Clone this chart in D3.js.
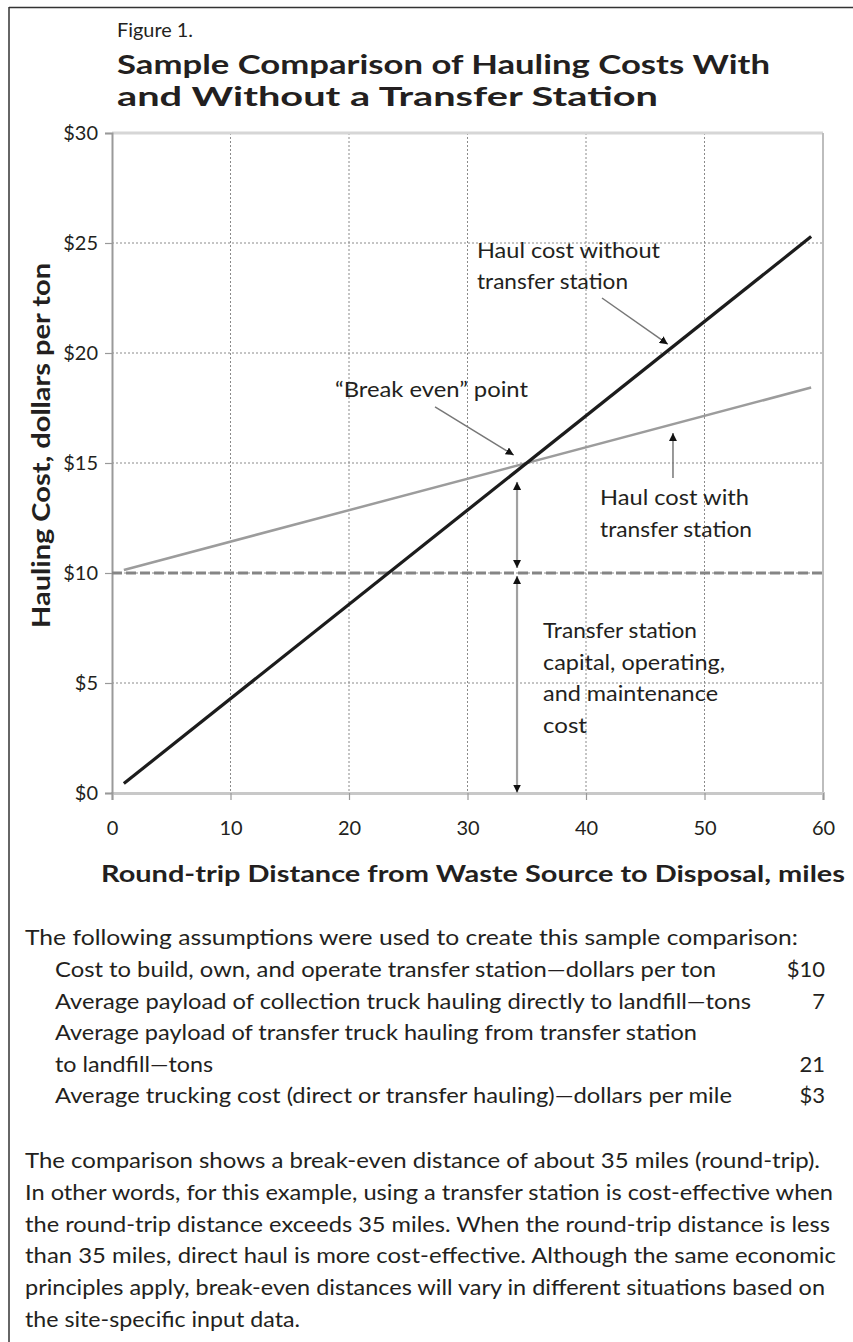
<!DOCTYPE html>
<html>
<head>
<meta charset="utf-8">
<script src="https://cdn.jsdelivr.net/npm/d3@7"></script>
<style>
  html, body { margin: 0; padding: 0; background: #fff; }
  svg { display: block; }
  text { font-family: Lato, "Open Sans", sans-serif; fill: #231f20; }
</style>
</head>
<body>
<svg id="chart" width="853" height="1342"></svg>
<script>
// ---------------- DATA ----------------
const distanceMiles = [1, 59];                 // round-trip miles
const costWithoutTransfer = [0.43, 25.29];     // $/ton, direct haul
const costWithTransfer = [10.14, 18.43];       // $/ton, via transfer station
const transferStationCost = [10, 10];          // $/ton, capital + O&M
const transferCostX = [0, 60];
const xTicks = [0, 10, 20, 30, 40, 50, 60];
const xTickLabels = ["0", "10", "20", "30", "40", "50", "60"];
const yTicks = [0, 5, 10, 15, 20, 25, 30];
const yTickLabels = ["$0", "$5", "$10", "$15", "$20", "$25", "$30"];

const figureLabel = "Figure 1.";
const titleLines = ["Sample Comparison of Hauling Costs With", "and Without a Transfer Station"];
const xAxisTitle = "Round-trip Distance from Waste Source to Disposal, miles";
const yAxisTitle = "Hauling Cost, dollars per ton";

const noteWithout = ["Haul cost without", "transfer station"];
const noteBreakEven = ["\u201CBreak even\u201D point"];
const noteWith = ["Haul cost with", "transfer station"];
const noteTransfer = ["Transfer station", "capital, operating,", "and maintenance", "cost"];

const assumptionsIntro = "The following assumptions were used to create this sample comparison:";
const assumptionLabels = [
  "Cost to build, own, and operate transfer station\u2014dollars per ton",
  "Average payload of collection truck hauling directly to landfill\u2014tons",
  "Average payload of transfer truck hauling from transfer station",
  "to landfill\u2014tons",
  "Average trucking cost (direct or transfer hauling)\u2014dollars per mile"
];
const assumptionValues = ["$10", "7", "", "21", "$3"];
const paragraphLines = [
  "The comparison shows a break-even distance of about 35 miles (round-trip).",
  "In other words, for this example, using a transfer station is cost-effective when",
  "the round-trip distance exceeds 35 miles. When the round-trip distance is less",
  "than 35 miles, direct haul is more cost-effective. Although the same economic",
  "principles apply, break-even distances will vary in different situations based on",
  "the site-specific input data."
];

// ---------------- LAYOUT ----------------
const svg = d3.select("#chart");
const plot = { left: 112, right: 823, top: 133, bottom: 793 };
const x = d3.scaleLinear().domain([0, 60]).range([plot.left, plot.right]);
const y = d3.scaleLinear().domain([0, 30]).range([plot.bottom, plot.top]);

// page frame
svg.append("line").attr("x1", 9).attr("x2", 853).attr("y1", 7.5).attr("y2", 7.5)
  .attr("stroke", "#333").attr("stroke-width", 1.5);
svg.append("line").attr("x1", 9).attr("x2", 9).attr("y1", 7).attr("y2", 1342)
  .attr("stroke", "#333").attr("stroke-width", 1.5);

// titles
svg.append("text").attr("x", 117).attr("y", 37).attr("font-size", 19)
  .attr("textLength", 76).attr("lengthAdjust", "spacingAndGlyphs").text(figureLabel);
const titleEnds = [770, 658];
titleLines.forEach((t, i) => {
  svg.append("text").attr("x", 117).attr("y", 74 + i * 32).attr("font-size", 26.5)
    .attr("font-weight", "bold").attr("textLength", titleEnds[i] - 117)
    .attr("lengthAdjust", "spacingAndGlyphs").text(t);
});

// grid
const grid = svg.append("g");
grid.selectAll("line.gx").data(xTicks.slice(1, -1)).join("line")
  .attr("x1", d => x(d)).attr("x2", d => x(d)).attr("y1", plot.top).attr("y2", plot.bottom)
  .attr("stroke", "#8a8a8a").attr("stroke-width", 1).attr("stroke-dasharray", "2,2");
grid.selectAll("line.gy").data(yTicks.slice(1, -1)).join("line")
  .attr("x1", plot.left).attr("x2", plot.right).attr("y1", d => y(d)).attr("y2", d => y(d))
  .attr("stroke", "#8a8a8a").attr("stroke-width", 1).attr("stroke-dasharray", "2,2");
// top & right frame of plot
svg.append("line").attr("x1", plot.left).attr("x2", plot.right).attr("y1", y(30)).attr("y2", y(30))
  .attr("stroke", "#d6d6d6").attr("stroke-width", 3);
svg.append("line").attr("x1", x(60)).attr("x2", x(60)).attr("y1", plot.top).attr("y2", plot.bottom)
  .attr("stroke", "#bdbdbd").attr("stroke-width", 2);

// axes
const xAxis = svg.append("g").attr("transform", `translate(0,${plot.bottom})`)
  .call(d3.axisBottom(x).tickValues(xTicks).tickFormat((d, i) => xTickLabels[i]).tickSize(7).tickPadding(21));
xAxis.select(".domain").attr("stroke", "#c8c8c8").attr("stroke-width", 3);
xAxis.selectAll(".tick line").attr("stroke", "#999").attr("stroke-width", 1.2);
xAxis.selectAll(".tick text").attr("font-size", 20).attr("font-family", "Lato, sans-serif").attr("fill", "#231f20");

const yAxis = svg.append("g").attr("transform", `translate(${plot.left},0)`)
  .call(d3.axisLeft(y).tickValues(yTicks).tickFormat((d, i) => yTickLabels[i]).tickSize(7).tickPadding(7));
yAxis.select(".domain").attr("stroke", "#9a9a9a").attr("stroke-width", 2);
yAxis.selectAll(".tick line").attr("stroke", "#999").attr("stroke-width", 1.2);
yAxis.selectAll(".tick text").attr("font-size", 20).attr("font-family", "Lato, sans-serif").attr("fill", "#231f20");

// axis titles
svg.append("text").attr("x", 101).attr("y", 882).attr("font-size", 23).attr("font-weight", "bold")
  .attr("textLength", 744).attr("lengthAdjust", "spacingAndGlyphs").text(xAxisTitle);
svg.append("text").attr("transform", "translate(50,445.5) rotate(-90)").attr("text-anchor", "middle")
  .attr("font-size", 25).attr("font-weight", "bold")
  .attr("textLength", 365).attr("lengthAdjust", "spacingAndGlyphs").text(yAxisTitle);

// series
const line = d3.line().x(d => x(d[0])).y(d => y(d[1]));
svg.append("path").datum(d3.zip(transferCostX, transferStationCost)).attr("d", line)
  .attr("fill", "none").attr("stroke", "#858585").attr("stroke-width", 2.8).attr("stroke-dasharray", "10,4");
svg.append("path").datum(d3.zip(distanceMiles, costWithTransfer)).attr("d", line)
  .attr("fill", "none").attr("stroke", "#9c9c9c").attr("stroke-width", 2.5);
svg.append("path").datum(d3.zip(distanceMiles, costWithoutTransfer)).attr("d", line)
  .attr("fill", "none").attr("stroke", "#1c1c1c").attr("stroke-width", 3.2);

// arrow markers
const defs = svg.append("defs");
defs.append("marker").attr("id", "head").attr("viewBox", "0 0 10 10").attr("refX", 10).attr("refY", 5)
  .attr("markerWidth", 8).attr("markerHeight", 8).attr("markerUnits", "userSpaceOnUse").attr("orient", "auto")
  .append("path").attr("d", "M0,0 L10,5 L0,10 Z").attr("fill", "#111");
defs.append("marker").attr("id", "tail").attr("viewBox", "0 0 10 10").attr("refX", 0).attr("refY", 5)
  .attr("markerWidth", 8).attr("markerHeight", 8).attr("markerUnits", "userSpaceOnUse").attr("orient", "auto")
  .append("path").attr("d", "M10,0 L0,5 L10,10 Z").attr("fill", "#111");

// annotation arrows in data space: [x1,y1,x2,y2, double?]
const arrows = [
  [41.35, 22.5, 46.9, 20.4, false],
  [27.26, 17.55, 33.9, 15.36, false],
  [47.34, 14.32, 47.34, 16.36, false],
  [34.18, 10.23, 34.18, 14.14, true],
  [34.18, 0.02, 34.18, 9.86, true]
];
svg.selectAll("line.arrow").data(arrows).join("line")
  .attr("x1", d => x(d[0])).attr("y1", d => y(d[1])).attr("x2", d => x(d[2])).attr("y2", d => y(d[3]))
  .attr("stroke", d => d[4] ? "#a0a0a0" : "#777").attr("stroke-width", d => d[4] ? 2.2 : 1.5)
  .attr("marker-end", "url(#head)").attr("marker-start", d => d[4] ? "url(#tail)" : null);

// annotation texts
function note(lines, x0, y0, ends, lh) {
  lines.forEach((t, i) => {
    svg.append("text").attr("x", x0).attr("y", y0 + i * lh).attr("font-size", 21)
      .attr("textLength", ends[i] - x0).attr("lengthAdjust", "spacingAndGlyphs").text(t);
  });
}
note(noteWithout, 477, 258, [660, 628], 31);
note(noteBreakEven, 335, 397, [528], 31);
note(noteWith, 600, 505, [749, 752], 32);
note(noteTransfer, 543, 638, [697, 725, 718, 587], 31.7);

// assumptions block
svg.append("text").attr("x", 25).attr("y", 945).attr("font-size", 22)
  .attr("textLength", 798 - 25).attr("lengthAdjust", "spacingAndGlyphs").text(assumptionsIntro);
const labelEnds = [716, 751, 697, 213, 732];
assumptionLabels.forEach((t, i) => {
  const yy = 977 + i * 31.6;
  svg.append("text").attr("x", 55).attr("y", yy).attr("font-size", 22)
    .attr("textLength", labelEnds[i] - 55).attr("lengthAdjust", "spacingAndGlyphs").text(t);
  if (assumptionValues[i]) {
    svg.append("text").attr("x", 825).attr("y", yy).attr("font-size", 22).attr("text-anchor", "end")
      .text(assumptionValues[i]);
  }
});

// paragraph
const paraEnds = [820, 833, 830, 836, 825, 300];
paragraphLines.forEach((t, i) => {
  svg.append("text").attr("x", 25).attr("y", 1168 + i * 31.8).attr("font-size", 22)
    .attr("textLength", paraEnds[i] - 25).attr("lengthAdjust", "spacingAndGlyphs").text(t);
});
</script>
</body>
</html>
